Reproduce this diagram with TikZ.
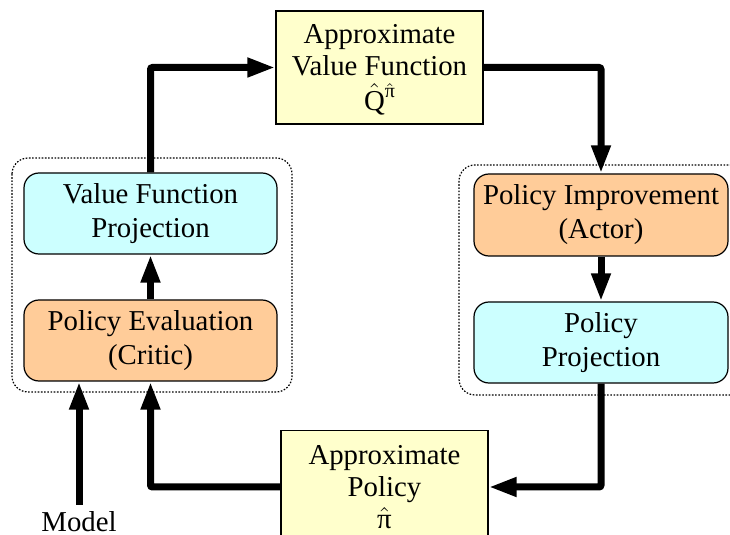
\documentclass[tikz,border=0pt]{standalone}
\usepackage{fontspec}
\setmainfont{Liberation Serif}
\usepackage{tikz}
\usetikzlibrary{arrows.meta,positioning,calc}
\definecolor{figCyan}{HTML}{CCFFFF}
\definecolor{figOrange}{HTML}{FFCC99}
\definecolor{figYellow}{HTML}{FFFFCC}
\tikzset{
  rbox/.style={draw=black,line width=0.6pt,rounded corners=7.5pt,align=center,
               minimum width=126.5pt,minimum height=40.5pt,inner sep=0pt,
               font=\fontsize{14.4}{17}\selectfont},
  sbox/.style={draw=black,line width=0.6pt,fill=figYellow,align=center,
               minimum width=103.5pt,minimum height=56.5pt,inner sep=0pt,
               font=\fontsize{14.4}{16}\selectfont},
  flow/.style={line width=3.5pt,rounded corners=1pt,-{Triangle[length=14pt,width=9pt]}},
  dotbox/.style={draw=black,line width=0.6pt,dash pattern=on 0.8pt off 0.8pt,rounded corners=8pt},
}
\newcommand{\hatpi}{$\hat{\mbox{π}}$}

\begin{document}
\begin{tikzpicture}[x=0.5pt,y=-0.5pt]
    \clip (0,0) rectangle (730,535);
    \fill[white] (0,0) rectangle (730,535);
    \draw[dotbox] (12,158) rectangle (292,392);
    \draw[dotbox] (459,165) rectangle (750,395);
    \node[rbox,fill=figCyan] (vfp) at (150.5,213.5) {Value Function\\Projection};
    \node[rbox,fill=figOrange] (pe) at (150.5,340.5) {Policy Evaluation\\(Critic)};
    \node[rbox,fill=figOrange,minimum width=127pt,minimum height=41pt] (pim) at (601,215) {Policy Improvement\\(Actor)};
    \node[rbox,fill=figCyan,minimum width=127pt] (pp) at (601,342.5) {Policy\\Projection};
    \node[sbox] (avf) at (379.5,67.5) {Approximate\\Value Function\\[1.5pt]\smash{$\hat{\mbox{Q}}$\raisebox{0.95ex}{\fontsize{10}{10}\selectfont\hatpi}}};
    \node[sbox] (ap) at (384.5,487) {Approximate\\Policy\\\smash{\hatpi}};
    \node[font=\fontsize{14.4}{16}\selectfont] (model) at (79,522) {Model};
    \draw[flow] (pe.north) -- (vfp.south);
    \draw[flow] (vfp.north) |- (avf.west);
    \draw[flow] (avf.east) -| (pim.north);
    \draw[flow] (pim.south) -- (pp.north);
    \draw[flow] (pp.south) |- (ap.east);
    \draw[flow] (ap.west) -| (pe.south);
    \draw[flow] (model.north) -- (model.north |- pe.south);
  \end{tikzpicture}
\end{document}
